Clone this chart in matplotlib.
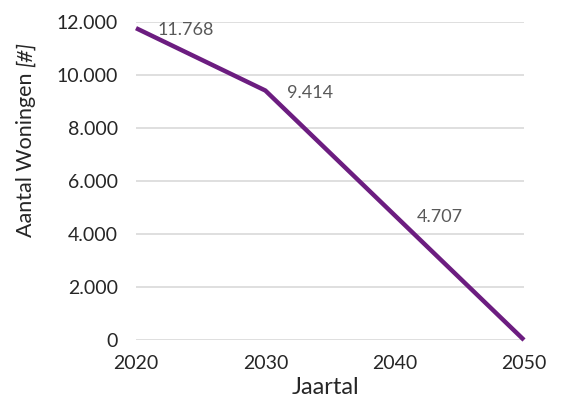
import matplotlib
matplotlib.use("Agg")
import matplotlib.pyplot as plt
from matplotlib.ticker import FuncFormatter
from matplotlib.transforms import offset_copy

# data
jaren = [2020, 2030, 2040, 2050]
woningen = [11768, 9414, 4707, 0]
labels = ['11.768', '9.414', '4.707', '']

plt.rcParams['font.family'] = ['Lato', 'DejaVu Sans']

fig = plt.figure(figsize=(5.63, 4.0), dpi=100)
ax = fig.add_axes([136 / 563, 60 / 400, 388 / 563, 318 / 400])

ax.plot(jaren, woningen, color='#6C1D80', linewidth=3.2, solid_capstyle='butt', zorder=3, clip_on=False)
for x, y, t in zip(jaren, woningen, labels):
    if t:
        ax.annotate(t, (x, y), textcoords='offset pixels', xytext=(22, -2),
                    ha='left', va='center', fontsize=13, color='#595959')

ax.set_xlim(2020, 2050)
ax.set_ylim(0, 12000)
ax.set_xticks(jaren)
ax.set_yticks(range(0, 12001, 2000))
ax.yaxis.set_major_formatter(FuncFormatter(lambda v, p: f'{int(v):,}'.replace(',', '.')))
ax.tick_params(length=0, labelsize=14, colors='#262626')
ax.tick_params(axis='y', pad=13)
ax.tick_params(axis='x', pad=11)
ax.grid(axis='y', color='#D9D9D9', linewidth=1.2)
ax.set_axisbelow(True)
for s in ax.spines.values():
    s.set_visible(False)

fig.text(325 / 563, 1 - 388 / 400, 'Jaartal', fontsize=17, color='#262626',
         ha='center', va='center')

# y label: upright part + italic part
t1 = fig.text(26 / 563, 1 - 237 / 400, 'Aantal Woningen ', fontsize=15.5,
              color='#262626', ha='center', va='bottom', rotation=90)
fig.canvas.draw()
h = t1.get_window_extent().height
fig.text(26 / 563, 1 - 237 / 400, '[#]', fontsize=15.5, color='#262626',
         ha='center', va='bottom', rotation=90, style='italic',
         transform=offset_copy(fig.transFigure, fig=fig, y=h, units='dots'))

fig.savefig('out.png', dpi=100)
